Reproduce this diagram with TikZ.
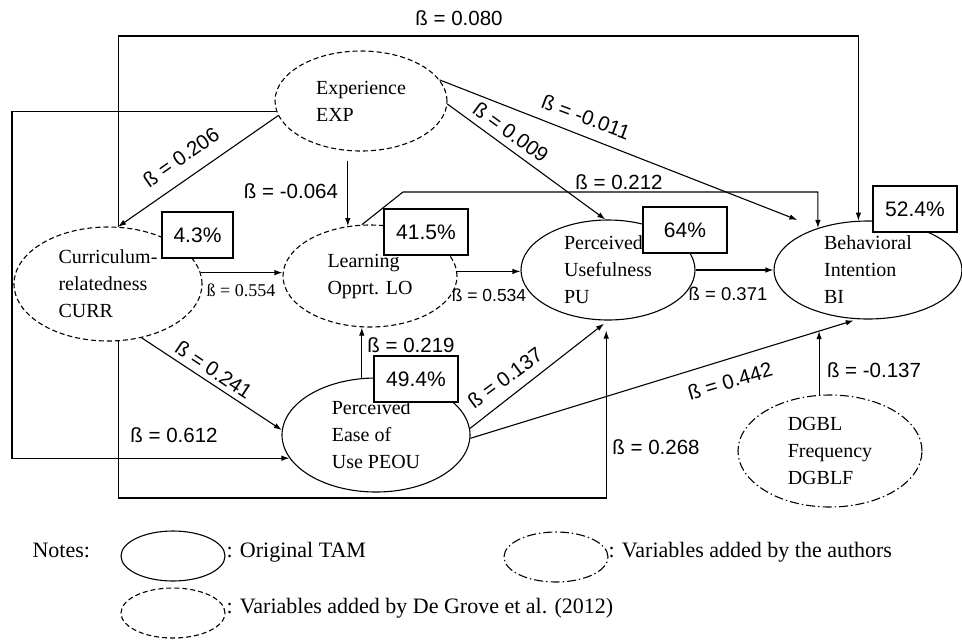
\documentclass[tikz,border=0pt]{standalone}
\usepackage{fontspec}
\setmainfont{Liberation Serif}
\newfontfamily\arialf{Liberation Sans}
\usetikzlibrary{shapes.geometric,arrows.meta,calc}
\begin{document}
\begin{tikzpicture}[x=1pt,y=-1pt, line width=1.1pt,
  >={Latex[length=8pt,width=5.5pt]},
  var/.style={ellipse, draw, inner sep=0pt, font=\fontsize{20}{27}\selectfont, align=left},
  tam/.style={var},
  degrove/.style={var, dash pattern=on 5pt off 3pt},
  authors/.style={var, dash pattern=on 9pt off 3pt on 1.5pt off 3pt},
  pct/.style={draw, fill=white, inner sep=0pt, minimum width=84pt, minimum height=46pt, font=\fontsize{21}{24}\arialf},
  beta/.style={inner sep=0pt, font=\fontsize{20.5}{24}\arialf},
  legtext/.style={inner sep=0pt, anchor=west, font=\fontsize{22}{26}\selectfont},
  legell/.style={minimum width=104pt, minimum height=50pt}
]
\useasboundingbox (0,0) rectangle (962,641);

% variables
\node[degrove, minimum width=172pt, minimum height=100pt] (exp) at (361,101) {Experience\\EXP};
\node[degrove, minimum width=188pt, minimum height=114pt] (curr) at (108,284) {Curriculum-\\relatedness\\CURR};
\node[degrove, minimum width=174pt, minimum height=102pt] (lo) at (370,276) {Learning\\Opprt. LO};
\node[tam, minimum width=174pt, minimum height=100pt] (pu) at (608,270) {Perceived\\Usefulness\\PU};
\node[tam, minimum width=188pt, minimum height=98pt] (bi) at (868,270) {Behavioral\\Intention\\BI};
\node[tam, minimum width=188pt, minimum height=114pt] (peou) at (376,435) {Perceived\\Ease of\\Use PEOU};
\node[authors, minimum width=184pt, minimum height=112pt] (dgblf) at (830,451) {DGBL\\Frequency\\DGBLF};

% helper coordinates
\coordinate (topy) at (0,36);
\coordinate (lftx) at (12,0);
\coordinate (boty) at (0,498);
\coordinate (bend) at (403,192);
\coordinate (m442) at ($(peou.358)!0.9!(bi.258)$);

% connectors
\draw[->] (curr.80) -- (curr.80 |- topy) -| (bi.101);
\draw[->] (exp.190) -- (curr.80);
\draw[->] (exp.187) -- (exp.187 -| lftx) |- (peou.195);
\draw[->] ([yshift=-9pt]exp.south -| lo.114) -- (lo.114);
\draw[->, shorten >=22pt] (exp.15) -- (bi.140);
\draw[->] (exp.358) -- (pu.93);
\draw[->] (lo.99) -- (bend) -- (bend -| bi.140) -- (bi.140);
\draw[->] (curr.7) -- (curr.7 -| lo.west);
\draw[->] (lo.3) -- (lo.3 -| pu.west);
\draw[->] (pu.0) -- (pu.0 -| bi.west);
\draw[->] (curr.302) -- (peou.177);
\draw[->, shorten >=10pt] (curr.280) |- (pu.268 |- boty) -- (pu.268);
\draw[->] (peou.104) -- (peou.104 |- lo.south);
\draw[->, shorten >=5pt] (peou.4) -- (pu.270);
\draw[->, shorten >=4pt] (peou.358) -- (bi.258);
\draw[->] (dgblf.101) -- (dgblf.101 |- m442);

% percentage boxes
\node[pct, minimum width=71pt] (r2curr) at (197.5,235) {4.3\%};
\node[pct] (r2lo) at (426,232) {41.5\%};
\node[pct] (r2pu) at (685,230) {64\%};
\node[pct] (r2bi) at (915,209) {52.4\%};
\node[pct] (r2peou) at (416,379) {49.4\%};

% path coefficients
\node[beta] (b080) at (459,18) {ß = 0.080};
\node[beta, rotate=35] (b206) at (181,157) {ß = 0.206};
\node[beta] (b064) at (291,191) {ß = -0.064};
\node[beta, rotate=-20.5] (b011) at (586,117) {ß = -0.011};
\node[beta, rotate=-36] (b009) at (511,132) {ß = 0.009};
\node[beta] (b212) at (619,182) {ß = 0.212};
\node[inner sep=0pt, font=\fontsize{18}{20}\selectfont] (b554) at (241,290) {ß = 0.554};
\node[inner sep=0pt, font=\fontsize{17.5}{20}\arialf] (b534) at (489,295) {ß = 0.534};
\node[inner sep=0pt, font=\fontsize{18.5}{20}\arialf] (b371) at (728,294) {ß = 0.371};
\node[beta, rotate=-33.7] (b241) at (214,370) {ß = 0.241};
\node[beta] (b219) at (411,345) {ß = 0.219};
\node[beta, rotate=36.5] (b137) at (505,378) {ß = 0.137};
\node[beta, rotate=16.5] (b442) at (730,381) {ß = 0.442};
\node[beta] (bm137) at (874,370) {ß = -0.137};
\node[beta] (b612) at (174,435) {ß = 0.612};
\node[beta] (b268) at (656,447) {ß = 0.268};

% legend
\node[legtext] (notes) at (32,550) {Notes:};
\node[tam, legell] (legtam) at (173,556) {};
\node[legtext] (legtamt) at (226,552) {: Original TAM};
\node[authors, legell] (legauth) at (556,557) {};
\node[legtext] (legautht) at (608,552) {: Variables added by the authors};
\node[degrove, legell] (legdg) at (173,613) {};
\node[legtext] (legdgt) at (226,608) {: Variables added by De Grove et al. (2012)};
\end{tikzpicture}
\end{document}
